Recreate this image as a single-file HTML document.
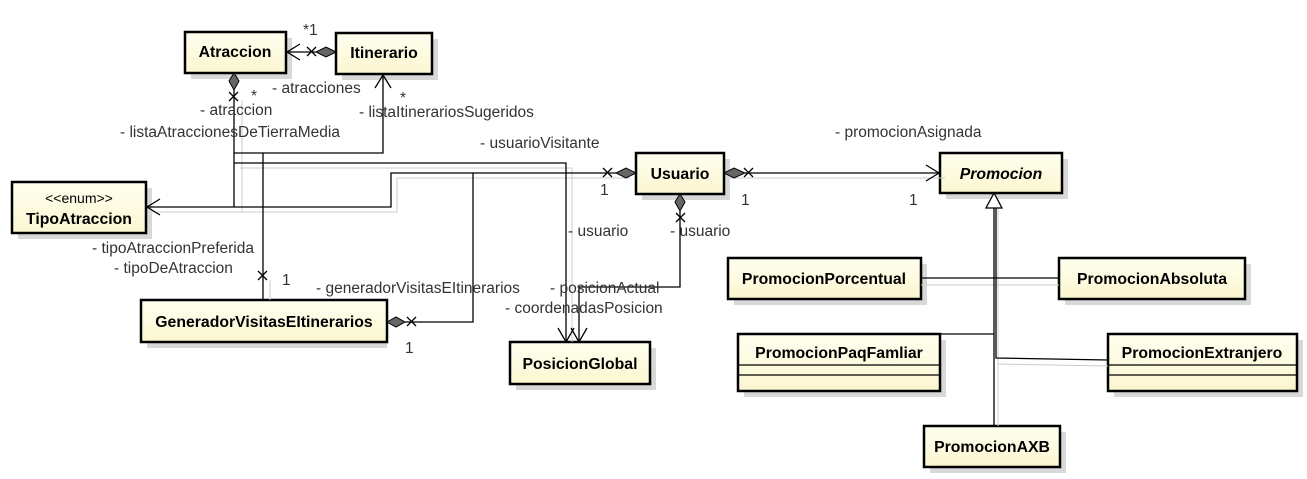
<!DOCTYPE html>
<html><head><meta charset="utf-8"><style>
body{margin:0;background:#fff;}
svg{display:block;font-family:"Liberation Sans",sans-serif;}
.n{font-weight:bold;font-size:15.8px;fill:#000;}
.l{font-size:15.5px;fill:#333;}
</style></head><body>
<svg width="1307" height="479" viewBox="0 0 1307 479">
<defs><linearGradient id="g" x1="0" y1="0" x2="0" y2="1"><stop offset="0" stop-color="#fffff0"/><stop offset="1" stop-color="#fbf6d0"/></linearGradient></defs>
<g fill="#d8d8d8">
<rect x="191" y="38" width="101" height="41"/><rect x="342" y="39" width="96" height="41"/>
<rect x="18" y="188" width="134" height="51"/><rect x="147" y="306" width="240" height="42"/>
<rect x="516" y="348" width="140" height="42"/><rect x="642" y="159" width="88" height="41"/>
<rect x="946" y="159" width="122" height="40"/><rect x="734" y="264" width="193" height="41"/>
<rect x="1065" y="264" width="186" height="41"/><rect x="744" y="340" width="202" height="57"/>
<rect x="1114" y="340" width="189" height="57"/><rect x="930" y="432" width="136" height="41"/>
</g>
<g fill="url(#g)" stroke="#000" stroke-width="2.5">
<rect x="185" y="32" width="101" height="41"/><rect x="336" y="33" width="96" height="41"/>
<rect x="12" y="182" width="134" height="51"/><rect x="141" y="300" width="246" height="42"/>
<rect x="510" y="342" width="140" height="42"/><rect x="636" y="153" width="88" height="41"/>
<rect x="940" y="153" width="122" height="40"/><rect x="728" y="258" width="193" height="41"/>
<rect x="1059" y="258" width="186" height="41"/><rect x="738" y="334" width="202" height="57"/>
<rect x="1108" y="334" width="189" height="57"/><rect x="924" y="426" width="136" height="41"/>
</g>
<g stroke="#000" stroke-width="1.2"><line x1="738" y1="365" x2="940" y2="365"/><line x1="738" y1="375" x2="940" y2="375"/><line x1="1108" y1="365" x2="1297" y2="365"/><line x1="1108" y1="375" x2="1297" y2="375"/></g>
<g class="n" text-anchor="middle">
<text x="235" y="57">Atraccion</text><text x="384" y="58">Itinerario</text>
<text x="79" y="224">TipoAtraccion</text><text x="264" y="327">GeneradorVisitasEItinerarios</text>
<text x="580" y="369">PosicionGlobal</text><text x="680" y="179">Usuario</text>
<text x="1001" y="179" font-style="italic">Promocion</text><text x="824" y="284">PromocionPorcentual</text>
<text x="1152" y="284">PromocionAbsoluta</text><text x="839" y="358">PromocionPaqFamliar</text>
<text x="1202" y="358">PromocionExtranjero</text><text x="992" y="452">PromocionAXB</text>
</g>
<text x="79" y="203" text-anchor="middle" style="font-size:14px">&lt;&lt;enum&gt;&gt;</text>
<g stroke="#ccc" stroke-width="1" fill="none">
<polyline points="240,168 572,168 572,342"/><polyline points="152,212 397,212 397,178 630,178"/>
<polyline points="242,100 242,212"/><polyline points="270,280 270,300"/><line x1="730" y1="178" x2="945" y2="178"/>
<line x1="998" y1="200" x2="998" y2="426"/><line x1="921" y1="285" x2="1059" y2="285"/><line x1="998" y1="364" x2="1108" y2="366"/>
</g>
<g stroke="#000" stroke-width="1.3" fill="none">
<line x1="287" y1="52" x2="316" y2="52"/><polyline points="300,44 287,52 300,60"/>
<polyline points="234,90 234,207"/>
<polyline points="234,153 383,153 383,75"/><polyline points="375,88 383,75 391,88"/>
<polyline points="234,163 566,163 566,342"/>
<polyline points="263,153 263,300"/>
<polyline points="147,207 391,207 391,173 616,173"/><polyline points="160,199 147,207 160,215"/>
<polyline points="405,322 473,322 473,173"/>
<polyline points="680,211 680,287 579,287 579,342"/>
<polyline points="558,328 566,342 574,328"/><polyline points="571,328 579,342 587,328"/>
<line x1="745" y1="173" x2="939" y2="173"/><polyline points="926,165 939,173 926,181"/>
<line x1="994" y1="208" x2="994" y2="426"/>
<line x1="921" y1="278" x2="1059" y2="278"/>
<line x1="940" y1="334" x2="994" y2="334"/>
<polyline points="996,208 996,358 1108,360"/>
</g>
<polygon points="994,193 1002,208 986,208" fill="#fff" stroke="#000" stroke-width="1.3"/>
<g fill="#666" stroke="#000" stroke-width="1">
<polygon points="336,52 326,47 316,52 326,57"/><polygon points="234,73 239,81 234,90 229,81"/>
<polygon points="636,173 626,168 616,173 626,178"/><polygon points="387,322 396,317 405,322 396,327"/>
<polygon points="724,173 734,168 745,173 734,178"/><polygon points="680,194 685,202 680,211 675,202"/>
</g>
<g stroke="#000" stroke-width="1.3">
<path d="M307,47l9,9M316,47l-9,9"/><path d="M229,92l9,9M238,92l-9,9"/><path d="M258,271l9,9M267,271l-9,9"/>
<path d="M603,168l9,9M612,168l-9,9"/><path d="M407,317l9,9M416,317l-9,9"/><path d="M744,168l9,9M753,168l-9,9"/>
<path d="M676,213l9,9M685,213l-9,9"/>
</g>
<g class="l">
<text x="303" y="35">*1</text><text x="272" y="93">- atracciones</text><text x="251" y="101">*</text><text x="400" y="103">*</text>
<text x="200" y="115">- atraccion</text><text x="359" y="117">- listaItinerariosSugeridos</text>
<text x="120" y="137">- listaAtraccionesDeTierraMedia</text><text x="480" y="148">- usuarioVisitante</text>
<text x="835" y="137">- promocionAsignada</text>
<text x="600" y="195">1</text><text x="741" y="205">1</text><text x="909" y="205">1</text>
<text x="92" y="253">- tipoAtraccionPreferida</text><text x="114" y="273">- tipoDeAtraccion</text>
<text x="568" y="236">- usuario</text><text x="670" y="236">- usuario</text>
<text x="282" y="285">1</text><text x="316" y="293">- generadorVisitasEItinerarios</text>
<text x="550" y="293">- posicionActual</text><text x="505" y="313">- coordenadasPosicion</text><text x="405" y="353">1</text>
</g>
</svg>
</body></html>
